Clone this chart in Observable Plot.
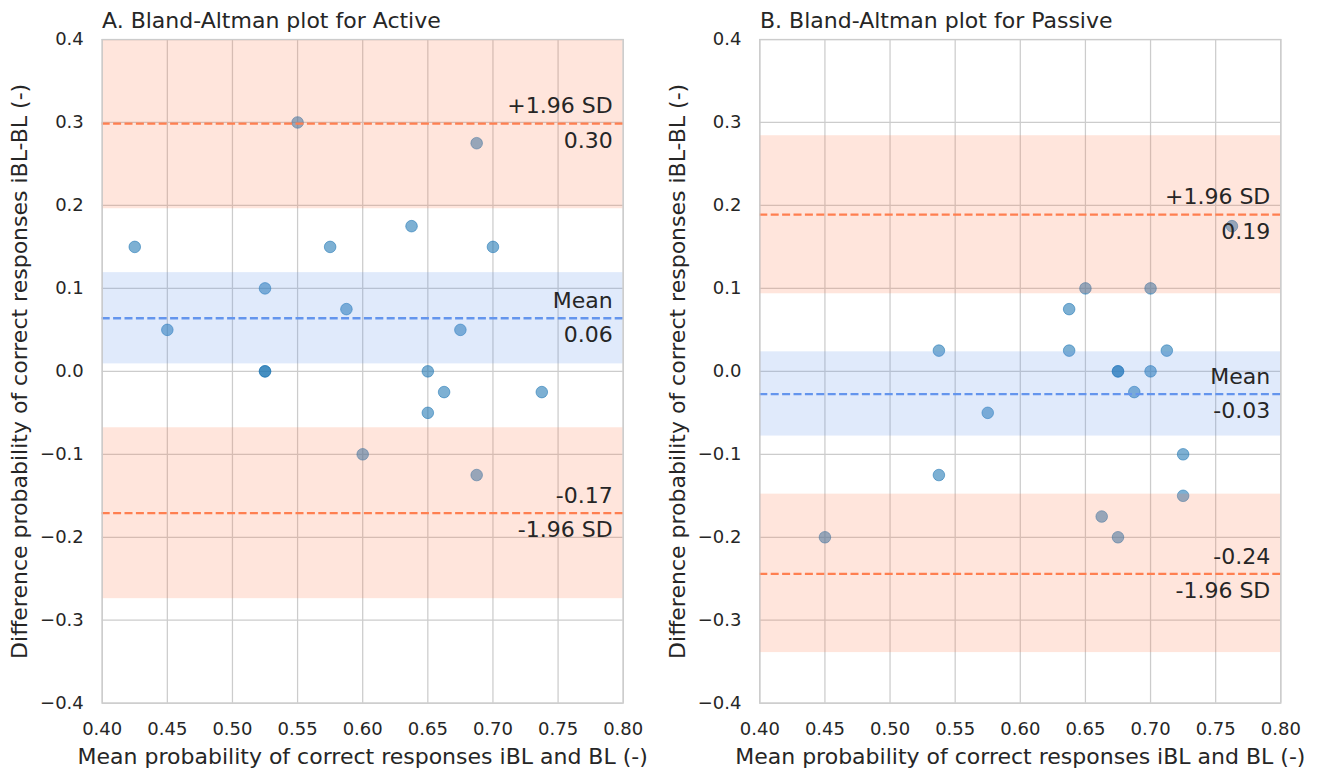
<!DOCTYPE html>
<html>
<head>
<meta charset="utf-8">
<script src="https://cdn.jsdelivr.net/npm/d3@7"></script>
<script src="https://cdn.jsdelivr.net/npm/@observablehq/plot@0.6"></script>
<style>
  body { margin: 0; background: #fff; font-family: "DejaVu Sans", sans-serif; color: #262626; }
  #wrap { position: relative; width: 1321px; height: 770px; overflow: hidden; }
  .panel { position: absolute; top: 0; }
  .title { box-sizing: border-box; height: 35px; font-size: 22px; line-height: 22px; padding-top: 9.5px; white-space: nowrap; }
</style>
</head>
<body>
<div id="wrap">
  <div class="panel" id="pA" style="left:0px;width:660px"></div>
  <div class="panel" id="pB" style="left:660px;width:661px"></div>
</div>
<script>
// ---- Data ----
const titles = ["A. Bland-Altman plot for Active", "B. Bland-Altman plot for Passive"];
const xLabel = "Mean probability of correct responses iBL and BL (-)";
const yLabel = "Difference probability of correct responses iBL-BL (-)";

const xTicks = [0.40, 0.45, 0.50, 0.55, 0.60, 0.65, 0.70, 0.75, 0.80];
const yTicks = [-0.4, -0.3, -0.2, -0.1, 0.0, 0.1, 0.2, 0.3, 0.4];

// Panel A (Active)
const activeX = [0.425, 0.45, 0.525, 0.525, 0.525, 0.55, 0.575, 0.5875, 0.6, 0.6375, 0.65, 0.65, 0.6625, 0.675, 0.6875, 0.6875, 0.7, 0.7375];
const activeY = [0.15, 0.05, 0.1, 0.0, 0.0, 0.3, 0.15, 0.075, -0.1, 0.175, 0.0, -0.05, -0.025, 0.05, 0.275, -0.125, 0.15, -0.025];
const activeLines = [0.2986, 0.064, -0.171];          // +1.96 SD, mean, -1.96 SD
const activeBandLo = [0.196, 0.009, -0.274];
const activeBandHi = [0.402, 0.119, -0.068];
const activeLabelsAbove = ["+1.96 SD", "Mean", "-0.17"];
const activeLabelsBelow = ["0.30", "0.06", "-1.96 SD"];

// Panel B (Passive)
const passiveX = [0.45, 0.5375, 0.5375, 0.575, 0.6375, 0.6375, 0.65, 0.6625, 0.675, 0.675, 0.675, 0.6875, 0.7, 0.7, 0.7125, 0.725, 0.725, 0.7625];
const passiveY = [-0.2, 0.025, -0.125, -0.05, 0.075, 0.025, 0.1, -0.175, 0.0, 0.0, -0.2, -0.025, 0.1, 0.0, 0.025, -0.1, -0.15, 0.175];
const passiveLines = [0.189, -0.0275, -0.244];
const passiveBandLo = [0.0935, -0.078, -0.339];
const passiveBandHi = [0.284, 0.0235, -0.148];
const passiveLabelsAbove = ["+1.96 SD", "Mean", "-0.24"];
const passiveLabelsBelow = ["0.19", "-0.03", "-1.96 SD"];

const lineColors = ["#FF7F50", "#6495ED", "#FF7F50"];

function makePanel(el, title, xs, ys, lines, lo, hi, above, below, dims) {
  const t = document.createElement("div");
  t.className = "title";
  t.style.paddingLeft = dims.titleLeft + "px";
  t.textContent = title;
  el.appendChild(t);

  const pts = xs.map((x, i) => ({x, y: ys[i]}));
  const bands = lines.map((v, i) => ({lo: lo[i], hi: hi[i], c: lineColors[i]}));
  const lns = lines.map((v, i) => ({v, c: lineColors[i], a: above[i], b: below[i]}));

  const chart = Plot.plot({
    width: dims.width,
    height: 735,
    marginTop: 4,
    marginBottom: 67.3,
    marginLeft: dims.ml,
    marginRight: dims.mr,
    style: {fontFamily: "DejaVu Sans, sans-serif", color: "#262626", background: "#fff", overflow: "visible"},
    x: {domain: [0.4, 0.8]},
    y: {domain: [-0.4, 0.4]},
    marks: [
      Plot.gridX(xTicks, {stroke: "#cccccc", strokeOpacity: 1, strokeWidth: 1.25}),
      Plot.gridY(yTicks, {stroke: "#cccccc", strokeOpacity: 1, strokeWidth: 1.25}),
      Plot.dot(pts, {x: "x", y: "y", r: 5.8, fill: "#1f77b4", fillOpacity: 0.58, stroke: "#1f77b4", strokeOpacity: 0.55, strokeWidth: 1}),
      Plot.rect(bands, {y1: "lo", y2: "hi", fill: "c", fillOpacity: 0.2, clip: true}),
      Plot.ruleY(lns, {y: "v", stroke: "c", strokeWidth: 2.3, strokeDasharray: "8,3.4"}),
      Plot.text(lns, {x: () => 0.8, y: "v", text: "a", textAnchor: "end", dx: -10.5, dy: -17.3, lineAnchor: "middle", fontSize: 22, fill: "#262626"}),
      Plot.text(lns, {x: () => 0.8, y: "v", text: "b", textAnchor: "end", dx: -10.5, dy: 17, lineAnchor: "middle", fontSize: 22, fill: "#262626"}),
      Plot.frame({stroke: "#cccccc", strokeWidth: 1.25}),
      Plot.axisX(xTicks, {tickSize: 0, tickPadding: 19, tickFormat: d3.format(".2f"), fontSize: 18, label: null}),
      Plot.axisY(yTicks, {tickSize: 0, tickPadding: 18.4, tickFormat: d3.format(".1f"), fontSize: 18, label: null}),
      Plot.text([xLabel], {frameAnchor: "bottom", text: d => d, textAnchor: "middle", dy: 53.5, lineAnchor: "middle", fontSize: 22, fill: "#262626"}),
      Plot.text([yLabel], {frameAnchor: "left", text: d => d, textAnchor: "middle", rotate: -90, dx: -82, lineAnchor: "middle", fontSize: 22, fill: "#262626"})
    ]
  });
  el.appendChild(chart);
}

makePanel(document.getElementById("pA"), titles[0], activeX, activeY, activeLines, activeBandLo, activeBandHi,
  activeLabelsAbove, activeLabelsBelow, {width: 660, ml: 101.7, mr: 37.3, titleLeft: 102});
makePanel(document.getElementById("pB"), titles[1], passiveX, passiveY, passiveLines, passiveBandLo, passiveBandHi,
  passiveLabelsAbove, passiveLabelsBelow, {width: 661, ml: 99.3, mr: 40.7, titleLeft: 100});
</script>
</body>
</html>
